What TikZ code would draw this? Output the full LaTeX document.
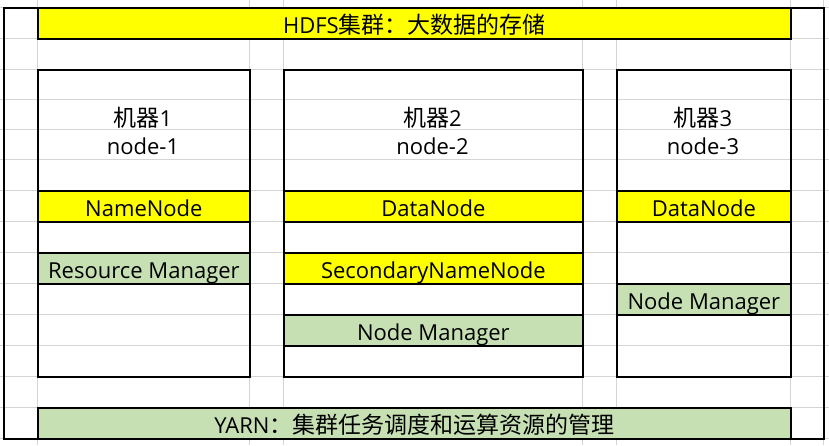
\documentclass[tikz,border=0pt]{standalone}
\usepackage{fontspec}
\setmainfont{Open Sans}
\newfontfamily\cjkfam{Noto Sans CJK SC}
\newcommand{\cjk}[1]{{\fontsize{23}{26}\cjkfam #1}}
\definecolor{gridgray}{HTML}{D4D4D4}
\definecolor{xlyellow}{HTML}{FFFF00}
\definecolor{xlgreen}{HTML}{C6E0B4}
\tikzset{
  gridline/.style={draw=gridgray, line width=1pt},
  frame/.style={draw=black, line width=1.8pt, inner sep=0pt, anchor=north west},
  bar/.style={frame, minimum height=31pt, text height=25pt, text depth=4pt,
    text=black, font=\fontsize{22}{26}\selectfont},
  ybar/.style={bar, fill=xlyellow},
  gbar/.style={bar, fill=xlgreen},
  lbl/.style={inner sep=0pt, anchor=base, text=black, font=\fontsize{22}{26}\selectfont}
}
\begin{document}
\begin{tikzpicture}[x=1pt,y=-1pt]
\useasboundingbox[fill=white] (0,0) rectangle (829,445);
% spreadsheet grid
\foreach \x in {37,249,283,582,616,790,823}
  \draw[gridline] (\x,0) -- (\x,445);
\foreach \y in {7,38,69,99,129,159,190,221,252,283,314,345,376,407,438}
  \draw[gridline] (0,\y) -- (829,\y);
% outer frame
\node[frame, minimum width=820pt, minimum height=431pt] (outer) at (3,7) {};
% machines
\node[frame, minimum width=212pt, minimum height=307pt] (m1) at (37,69) {};
\node[frame, minimum width=299pt, minimum height=307pt] (m2) at (283,69) {};
\node[frame, minimum width=174pt, minimum height=307pt] (m3) at (616,69) {};
\node[lbl] (m1a) at (143,126) {\cjk{机器}1};
\node[lbl] (m1b) at (143,154) {node-1};
\node[lbl] (m2a) at (432.5,126) {\cjk{机器}2};
\node[lbl] (m2b) at (432.5,154) {node-2};
\node[lbl] (m3a) at (703,126) {\cjk{机器}3};
\node[lbl] (m3b) at (703,154) {node-3};
% top and bottom bars
\node[ybar, minimum width=753pt] (hdfs) at (37,7) {HDFS\cjk{集群：大数据的存储}};
\node[gbar, minimum width=753pt] (yarn) at (37,407) {YARN\cjk{：集群任务调度和运算资源的管理}};
% roles
\node[ybar, minimum width=212pt] (nn) at (37,190) {NameNode};
\node[gbar, minimum width=212pt] (rm) at (37,252) {Resource Manager};
\node[ybar, minimum width=299pt] (dn2) at (283,190) {DataNode};
\node[ybar, minimum width=299pt] (snn) at (283,252) {SecondaryNameNode};
\node[gbar, minimum width=299pt] (nm2) at (283,314) {Node Manager};
\node[ybar, minimum width=174pt] (dn3) at (616,190) {DataNode};
\node[gbar, minimum width=174pt] (nm3) at (616,283) {Node Manager};
\end{tikzpicture}
\end{document}
